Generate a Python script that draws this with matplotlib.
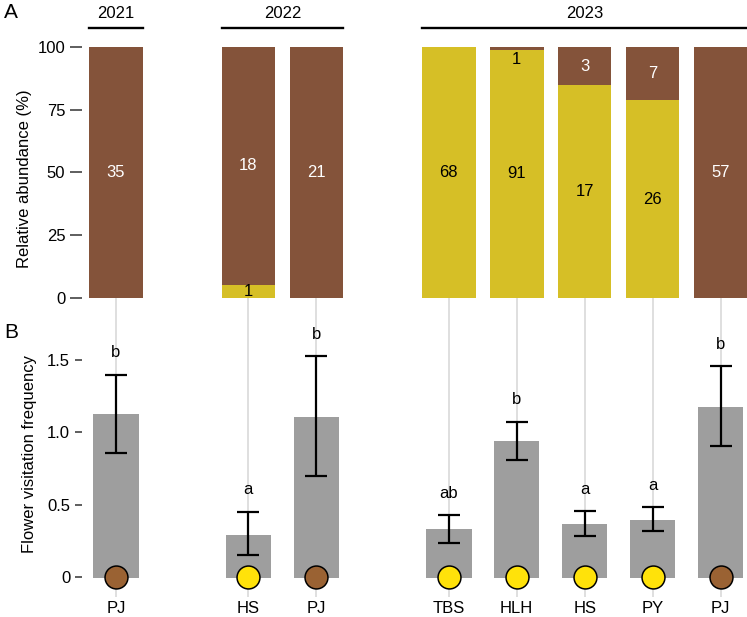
import numpy as np
import matplotlib
matplotlib.use("Agg")
import matplotlib.pyplot as plt
from matplotlib.transforms import blended_transform_factory

plt.rcParams["font.family"] = ["Liberation Sans", "DejaVu Sans"]

# Data
years = ["2021", "2022", "2022", "2023", "2023", "2023", "2023", "2023"]
species = ["PJ", "HS", "PJ", "TBS", "HLH", "HS", "PY", "PJ"]
n_yellow = [0, 1, 0, 68, 91, 17, 26, 0]
n_brown = [35, 18, 21, 0, 1, 3, 7, 57]
visit_mean = [1.13, 0.29, 1.11, 0.33, 0.94, 0.365, 0.395, 1.18]
visit_lo = [0.86, 0.15, 0.70, 0.235, 0.81, 0.28, 0.315, 0.905]
visit_hi = [1.40, 0.45, 1.53, 0.425, 1.075, 0.455, 0.48, 1.46]
letters = ["b", "a", "b", "ab", "b", "a", "a", "b"]
dot_colour = ["brown", "yellow", "brown", "yellow", "yellow", "yellow", "yellow", "brown"]

BROWN = "#84533A"
YELLOW = "#D6BF26"
DOT = {"brown": "#9A6233", "yellow": "#FFE20A"}
GREY_BAR = "#9E9E9E"
GRID = "#DCDCDC"
FS = 12

# x positions: unit spacing inside a year, bigger gap between years
gap = 0.95
x = []
pos = 0.0
for i, yr in enumerate(years):
    if i > 0:
        pos += 1 + (gap if yr != years[i - 1] else 0)
    x.append(pos)
x = np.array(x)

n_yellow = np.array(n_yellow)
n_brown = np.array(n_brown)
tot = n_yellow + n_brown
p_yellow = 100 * n_yellow / tot
p_brown = 100 * n_brown / tot

fig = plt.figure(figsize=(7.47, 6.17), dpi=100)
W, H = 747, 617
left = 82 / W
width = 1 - left
axA = fig.add_axes([left, 1 - 310.2 / H, width, (310.2 - 47.3) / H])
axB = fig.add_axes([left, 1 - 597 / H, width, (597 - 310.2) / H])

xlim = (-0.5, x[-1] + 0.39)
for ax in (axA, axB):
    for s in ax.spines.values():
        s.set_visible(False)
    ax.set_xlim(*xlim)
    for xi in x:
        ax.axvline(xi, color=GRID, lw=1.3, zorder=0)

# Panel A: stacked relative abundance
wA = 0.79
axA.bar(x, p_yellow, width=wA, color=YELLOW, zorder=2)
axA.bar(x, p_brown, width=wA, bottom=p_yellow, color=BROWN, zorder=2)
for xi, ny, nb, py, pb in zip(x, n_yellow, n_brown, p_yellow, p_brown):
    if ny > 0:
        axA.text(xi, py / 2, str(ny), ha="center", va="center", fontsize=FS, color="black", zorder=3)
    if nb > 0:
        if pb < 3:
            axA.text(xi, 95, str(nb), ha="center", va="center", fontsize=FS, color="black", zorder=3)
        else:
            axA.text(xi, py + pb / 2, str(nb), ha="center", va="center", fontsize=FS, color="white", zorder=3)
axA.set_ylim(-5, 100)
axA.set_yticks([0, 25, 50, 75, 100])
axA.set_xticks([])
axA.tick_params(axis="y", length=8.5, width=1.1, color="#333333", pad=3.5, labelsize=FS)
axA.set_ylabel("Relative abundance (%)", fontsize=FS, labelpad=4)

# year brackets above panel A
trans = blended_transform_factory(axA.transData, fig.transFigure)
for yr in dict.fromkeys(years):
    xs = x[[i for i, y in enumerate(years) if y == yr]]
    x0, x1 = xs.min() - wA / 2, xs.max() + wA / 2
    axA.plot([x0, x1], [1 - 28 / H] * 2, color="black", lw=1.7, transform=trans, clip_on=False)
    axA.text((x0 + x1) / 2, 1 - 13 / H, yr, ha="center", va="center", fontsize=FS, transform=trans)

# Panel B: visitation frequency
visit_mean = np.array(visit_mean)
err = np.array([visit_mean - np.array(visit_lo), np.array(visit_hi) - visit_mean])
axB.bar(x, visit_mean + 0.012, bottom=-0.012, width=0.67, color=GREY_BAR, zorder=2)
axB.errorbar(x, visit_mean, yerr=err, fmt="none", ecolor="black", elinewidth=1.6,
             capsize=8, capthick=1.6, zorder=3)
for xi, hi, lab in zip(x, visit_hi, letters):
    axB.text(xi, hi + 0.1, lab, ha="center", va="bottom", fontsize=FS)
for xi, c in zip(x, dot_colour):
    axB.plot(xi, 0, "o", ms=16.5, mfc=DOT[c], mec="black", mew=1.1, zorder=4)
axB.set_ylim(-0.142, 1.849)
axB.set_yticks([0, 0.5, 1.0, 1.5])
axB.set_yticklabels(["0", "0.5", "1.0", "1.5"])
axB.set_xticks(x)
axB.set_xticklabels(species)
axB.tick_params(axis="y", length=5, width=1.1, color="#333333", pad=3.5, labelsize=FS)
axB.tick_params(axis="x", length=0, pad=3, labelsize=FS)
axB.set_ylabel("Flower visitation frequency", fontsize=FS, labelpad=7)

fig.text(11 / W, 1 - 13 / H, "A", fontsize=15, ha="center", va="center")
fig.text(11 / W, 1 - 333 / H, "B", fontsize=15, ha="center", va="center")

fig.savefig("out.png", dpi=100)
